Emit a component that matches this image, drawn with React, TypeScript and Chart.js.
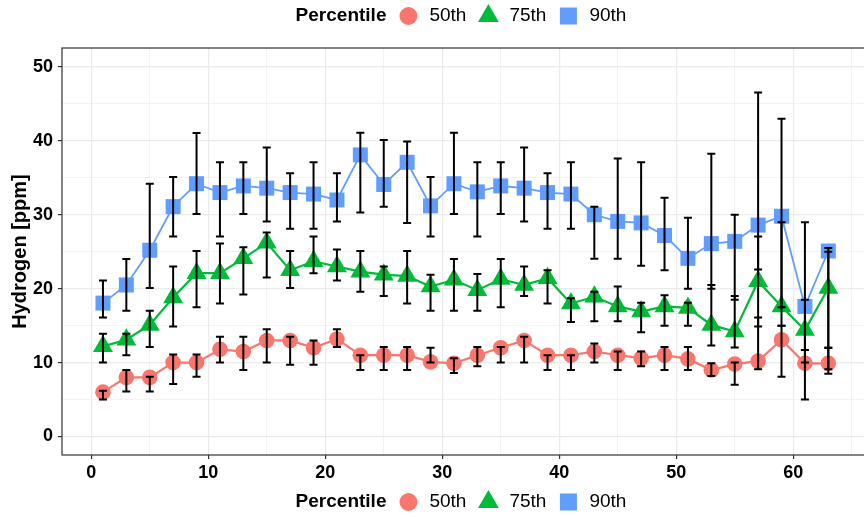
import React, { useEffect, useRef } from 'react';
import { Chart, registerables } from 'chart.js';

Chart.register(...registerables);

const xValues = [1, 3, 5, 7, 9, 11, 13, 15, 17, 19, 21, 23, 25, 27, 29, 31, 33, 35, 37, 39, 41, 43, 45, 47, 49, 51, 53, 55, 57, 59, 61, 63];

const p50 = [6.0, 8.0, 8.0, 10.0, 10.0, 11.8, 11.5, 13.0, 13.0, 12.0, 13.2, 11.0, 11.0, 11.0, 10.1, 9.9, 11.0, 12.0, 13.0, 11.0, 11.0, 11.5, 11.0, 10.6, 11.0, 10.5, 9.0, 9.8, 10.2, 13.1, 9.9, 9.9];
const p50Low = [5.0, 6.1, 6.1, 7.1, 8.1, 10.0, 9.0, 10.0, 9.7, 9.7, 12.1, 9.0, 9.0, 9.0, 10.0, 8.6, 9.5, 10.0, 10.0, 9.0, 9.0, 10.0, 9.0, 9.5, 9.0, 9.0, 8.2, 7.0, 9.1, 8.1, 5.0, 8.5];
const p50High = [6.2, 9.0, 8.1, 11.1, 11.1, 13.5, 13.5, 14.5, 13.5, 13.0, 14.5, 11.0, 12.1, 12.1, 12.0, 10.6, 12.1, 12.1, 13.5, 11.0, 11.0, 12.6, 11.5, 11.5, 12.1, 12.1, 9.9, 10.0, 16.1, 15.0, 11.7, 12.0];

const p75 = [12.2, 13.1, 15.1, 18.8, 22.1, 22.1, 24.1, 26.2, 22.5, 23.7, 23.0, 22.3, 21.9, 21.7, 20.3, 21.2, 19.8, 21.3, 20.5, 21.4, 18.0, 18.9, 17.6, 16.9, 17.6, 17.4, 15.1, 14.2, 21.0, 17.6, 14.4, 20.1];
const p75Low = [10.0, 11.0, 12.1, 14.9, 17.5, 18.0, 19.2, 21.5, 20.1, 22.1, 21.1, 19.6, 19.0, 18.0, 17.0, 17.0, 17.0, 17.5, 19.0, 18.0, 15.5, 15.6, 15.6, 14.1, 15.0, 15.0, 12.3, 12.05, 14.9, 15.0, 10.0, 12.0];
const p75High = [13.9, 13.9, 17.0, 23.0, 25.1, 26.1, 25.6, 27.6, 25.1, 27.05, 25.3, 25.1, 23.0, 25.1, 21.9, 24.0, 22.0, 24.0, 23.0, 22.5, 18.7, 19.6, 20.3, 18.1, 19.1, 18.1, 20.5, 19.0, 27.06, 29.0, 18.5, 25.0];

const p90 = [18.05, 20.5, 25.2, 31.1, 34.2, 33.0, 33.9, 33.6, 33.0, 32.8, 32.0, 38.1, 34.1, 37.1, 31.2, 34.2, 33.1, 33.9, 33.6, 33.0, 32.8, 30.0, 29.1, 28.9, 27.2, 24.1, 26.1, 26.4, 28.6, 29.8, 17.6, 25.1];
const p90Low = [16.1, 17.0, 20.1, 27.05, 30.1, 27.05, 30.1, 29.1, 28.1, 28.1, 29.1, 30.3, 31.1, 28.9, 27.05, 30.1, 27.05, 30.1, 29.1, 28.1, 28.1, 24.05, 24.05, 23.1, 22.5, 20.0, 20.0, 18.5, 22.6, 17.5, 11.7, 9.1];
const p90High = [21.1, 24.0, 34.2, 35.1, 41.05, 37.1, 37.1, 39.1, 35.6, 37.1, 35.6, 41.1, 40.1, 39.9, 35.1, 41.1, 37.1, 37.1, 39.1, 35.6, 37.1, 31.1, 37.6, 37.1, 32.3, 29.6, 38.25, 30.0, 46.55, 43.0, 29.0, 25.5];

const seriesLabels = ['50th', '75th', '90th'];
const legendTitle = 'Percentile';
const yAxisTitle = 'Hydrogen [ppm]';

const COLORS = ['#F8766D', '#00BA38', '#619CFF'];
const SHAPES = ['circle', 'triangle', 'rect'];
const FONT = '"Liberation Sans", Arial, sans-serif';

function pts(ys: number[]) {
  return xValues.map((x, i) => ({ x, y: ys[i] }));
}

function drawShape(ctx: CanvasRenderingContext2D, shape: string, cx: number, cy: number, color: string) {
  ctx.fillStyle = color;
  ctx.beginPath();
  if (shape === 'circle') {
    ctx.arc(cx, cy, 9, 0, Math.PI * 2);
  } else if (shape === 'triangle') {
    const r = 12;
    ctx.moveTo(cx, cy - r);
    ctx.lineTo(cx + r * 0.866, cy + r / 2);
    ctx.lineTo(cx - r * 0.866, cy + r / 2);
    ctx.closePath();
  } else {
    ctx.rect(cx - 8.5, cy - 8.5, 17, 17);
  }
  ctx.fill();
}

function drawLegend(ctx: CanvasRenderingContext2D, centerX: number, cy: number) {
  ctx.save();
  ctx.textBaseline = 'middle';
  ctx.textAlign = 'left';
  const titleFont = `bold 19px ${FONT}`;
  const itemFont = `19px ${FONT}`;
  ctx.font = titleFont;
  const tw = ctx.measureText(legendTitle).width;
  ctx.font = itemFont;
  const widths = seriesLabels.map((s) => ctx.measureText(s).width);
  const markerW = 18;
  let total = tw;
  widths.forEach((w) => { total += 13 + markerW + 12 + w; });
  let x = centerX - total / 2;
  ctx.font = titleFont;
  ctx.fillStyle = '#000';
  ctx.fillText(legendTitle, x, cy);
  x += tw;
  seriesLabels.forEach((s, i) => {
    x += 13;
    drawShape(ctx, SHAPES[i], x + markerW / 2, cy, COLORS[i]);
    x += markerW + 12;
    ctx.font = itemFont;
    ctx.fillStyle = '#000';
    ctx.fillText(s, x, cy);
    x += widths[i];
  });
  ctx.restore();
}

const lows = [p50Low, p75Low, p90Low];
const highs = [p50High, p75High, p90High];

const extrasPlugin = {
  id: 'extras',
  afterDatasetsDraw(chart: any) {
    const { ctx, scales } = chart;
    const xs = scales.x;
    const ys = scales.y;
    ctx.save();
    ctx.strokeStyle = '#000';
    ctx.lineWidth = 2;
    for (let s = 0; s < 3; s++) {
      xValues.forEach((xv, i) => {
        const px = xs.getPixelForValue(xv);
        const yl = ys.getPixelForValue(lows[s][i]);
        const yh = ys.getPixelForValue(highs[s][i]);
        ctx.beginPath();
        ctx.moveTo(px, yl);
        ctx.lineTo(px, yh);
        ctx.moveTo(px - 4, yl);
        ctx.lineTo(px + 4, yl);
        ctx.moveTo(px - 4, yh);
        ctx.lineTo(px + 4, yh);
        ctx.stroke();
      });
    }
    ctx.restore();
  },
  afterDraw(chart: any) {
    const { ctx, chartArea } = chart;
    ctx.save();
    ctx.strokeStyle = '#333';
    ctx.lineWidth = 1.2;
    ctx.strokeRect(chartArea.left, chartArea.top, chartArea.right - chartArea.left + 10, chartArea.bottom - chartArea.top);
    ctx.restore();
    drawLegend(ctx, 461, 16);
    drawLegend(ctx, 461, 502);
  },
};

export default function App() {
  const ref = useRef<HTMLCanvasElement>(null);
  useEffect(() => {
    if (!ref.current) return;
    const gridColor = (c: any) => '#EBEBEB';
    const gridWidth = (c: any) => (c.tick && Math.abs(c.tick.value % 10) < 1e-6 ? 1.2 : 0.6);
    const tickColor = (c: any) => (c.tick && Math.abs(c.tick.value % 10) < 1e-6 ? '#333' : 'rgba(0,0,0,0)');
    const tickCb = (v: any) => (Math.abs(Number(v) % 10) < 1e-6 ? String(v) : '');
    const chart = new Chart(ref.current, {
      type: 'line',
      data: {
        datasets: [p50, p75, p90].map((d, i) => ({
          label: seriesLabels[i],
          data: pts(d),
          borderColor: COLORS[i],
          backgroundColor: COLORS[i],
          borderWidth: i === 2 ? 1.8 : 2.2,
          pointStyle: SHAPES[i] as any,
          pointRadius: i === 0 ? 7.8 : i === 1 ? 11.5 : 10.6,
          pointBorderWidth: 0,
          pointBackgroundColor: COLORS[i],
          tension: 0,
          clip: false,
          order: 2 - i,
        })),
      },
      options: {
        animation: false,
        responsive: false,
        maintainAspectRatio: false,
        devicePixelRatio: 1,
        layout: { autoPadding: false, padding: { top: 48, left: 0, right: 0, bottom: 0 } },
        plugins: { legend: { display: false }, tooltip: { enabled: false } },
        scales: {
          x: {
            type: 'linear',
            min: -2.5,
            max: 66.05,
            border: { display: false },
            afterFit: (s: any) => { s.height = 62; s.paddingLeft = 0; s.paddingRight = 0; },
            ticks: {
              stepSize: 5,
              autoSkip: false,
              includeBounds: false,
              maxRotation: 0,
              padding: 3,
              callback: tickCb,
              color: '#000',
              font: { family: FONT, size: 18, weight: 'bold' },
            },
            grid: { color: gridColor, lineWidth: gridWidth, tickColor, tickLength: 4, drawTicks: true },
          },
          y: {
            type: 'linear',
            min: -2.5,
            max: 52.56,
            border: { display: false },
            afterFit: (s: any) => { s.width = 62; },
            ticks: {
              stepSize: 5,
              autoSkip: false,
              includeBounds: false,
              padding: 5,
              callback: tickCb,
              color: '#000',
              font: { family: FONT, size: 18, weight: 'bold' },
            },
            grid: { color: gridColor, lineWidth: gridWidth, tickColor, tickLength: 4, drawTicks: true },
            title: {
              display: true,
              text: yAxisTitle,
              color: '#000',
              font: { family: FONT, size: 20, weight: 'bold' },
              padding: { top: 8, bottom: 0 },
            },
          },
        },
      } as any,
      plugins: [extrasPlugin],
    });
    return () => chart.destroy();
  }, []);
  return (
    <div style={{ position: 'absolute', left: 0, top: 0, width: 864, height: 517, background: '#fff' }}>
      <canvas ref={ref} width={864} height={517} style={{ width: 864, height: 517, display: 'block' }} />
    </div>
  );
}
